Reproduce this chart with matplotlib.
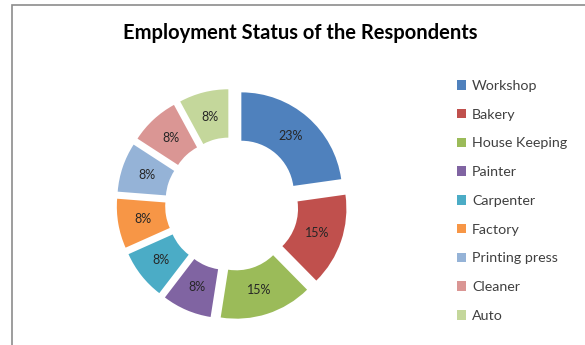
import matplotlib.pyplot as plt
from matplotlib.patches import Rectangle

categories = ['Workshop', 'Bakery', 'House Keeping', 'Painter', 'Carpenter',
              'Factory', 'Printing press', 'Cleaner', 'Auto']
shares = [23, 15, 15, 8, 8, 8, 8, 8, 8]
colors = ['#4F81BD', '#C0504D', '#9BBB59', '#8064A2', '#4BACC6',
          '#F79646', '#95B3D7', '#DA9694', '#C4D79B']

plt.rcParams['font.family'] = ['Lato', 'DejaVu Sans']

fig = plt.figure(figsize=(5.85, 3.45), dpi=100)
fig.patch.set_facecolor('white')

# chart area border (cut off on right and bottom like the screenshot)
fig.add_artist(Rectangle((12 / 585, -0.1), 1.2, (340 / 345) + 0.1,
                         transform=fig.transFigure, fill=False,
                         edgecolor='#8c8c8c', linewidth=1.2))

ax = fig.add_axes([0.1853, 0.0504, 0.4222, 0.716])
wedges, texts, autotexts = ax.pie(
    shares, colors=colors, startangle=90, counterclock=False,
    explode=[0.14] * len(shares), radius=0.98,
    wedgeprops=dict(width=0.47, edgecolor='none'),
    autopct=lambda p: f'{p:.0f}%', pctdistance=0.75,
    textprops=dict(fontsize=9, color='#262626'))
ax.set_xlim(-1.2, 1.2)
ax.set_ylim(-1.2, 1.2)
ax.set_aspect('equal')
ax.axis('off')

fig.text(300 / 585, 1 - 33 / 345, 'Employment Status of the Respondents',
         ha='center', va='center', fontsize=14.5, fontweight='bold', color='black')

fig.legend(wedges, categories, loc='upper left',
           bbox_to_anchor=(457 / 585, 1 - 80 / 345),
           frameon=False, fontsize=10.3, handlelength=0.65, handleheight=0.65,
           handletextpad=0.4, labelspacing=1.17, borderpad=0, borderaxespad=0,
           labelcolor='#404040')

fig.savefig('out.png', dpi=100)
